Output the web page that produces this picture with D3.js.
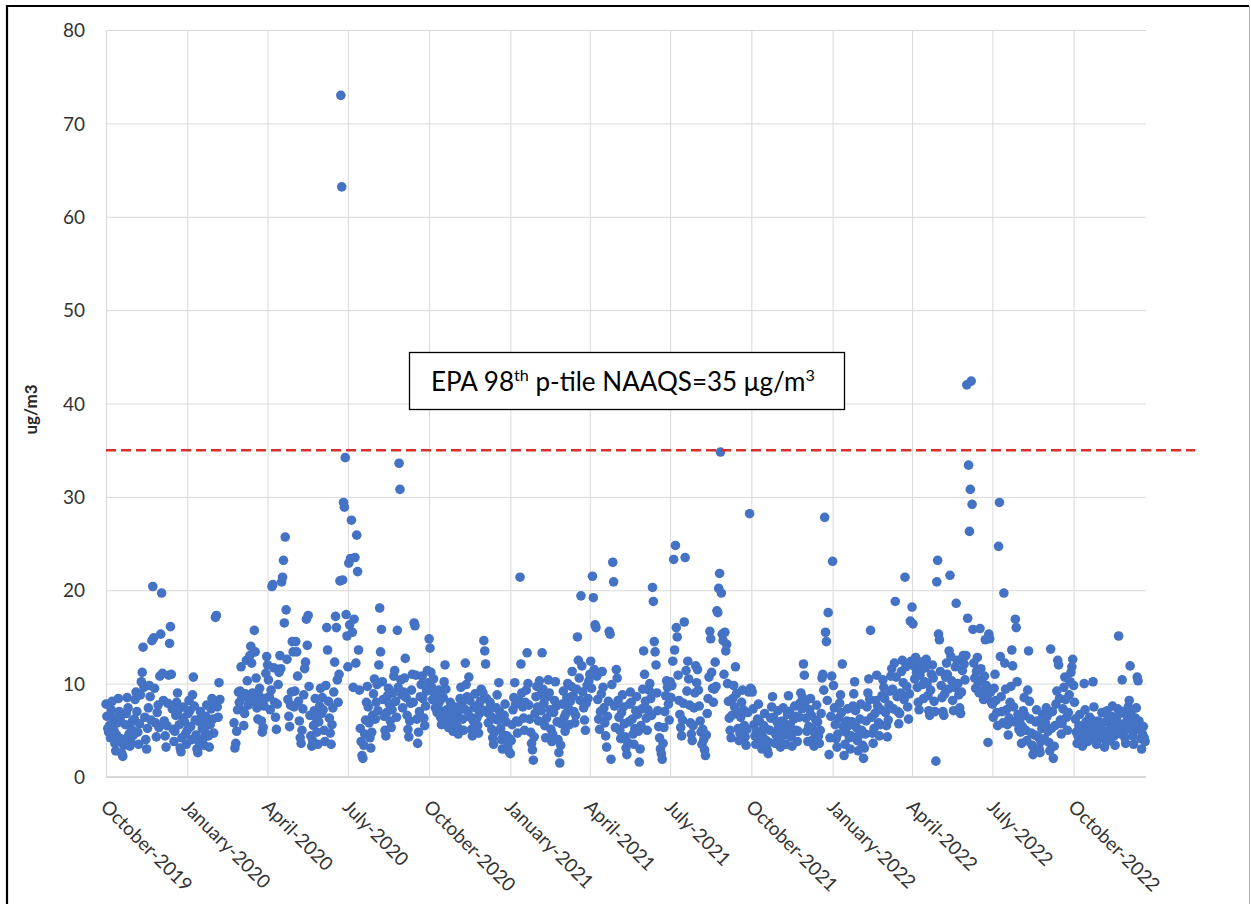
<!DOCTYPE html>
<html>
<head>
<meta charset="utf-8">
<script src="https://cdn.jsdelivr.net/npm/d3@7"></script>
<style>
  body { margin: 0; background: #fff; }
  svg { display: block; }
</style>
</head>
<body>
<svg id="chart" width="1251" height="904"></svg>
<script>
// Daily PM2.5 concentrations (ug/m3), one array per calendar month, day 1 first.
// null marks a day without a valid sample.
const oct2019 = [7.8,6.5,5.2,4.8,5.5,4.2,7.2,8.1,6.3,5.0,3.6,2.8,4.5,5.8,8.4,7.0,6.2,4.1,2.5,2.2,3.4,4.0,5.6,6.8,8.5,7.4,4.6,3.3,3.9,5.1,6.0];
const nov2019 = [4.5,6.2,8.3,9.1,7.0,4.8,3.5,5.7,8.8,10.2,11.2,13.9,9.6,6.4,4.0,3.0,5.2,7.4,9.8,8.6,6.1,14.6,20.4,14.9,9.5,5.8,4.3,6.9,7.7,5.3];
const dec2019 = [10.8,15.3,19.7,11.1,8.2,6.0,4.4,3.2,5.5,7.9,10.9,14.3,16.1,11.0,7.3,5.1,3.8,4.9,6.6,8.0,9.0,7.2,5.6,3.1,2.7,4.2,6.3,7.5,5.9,4.6,3.5];
const jan2020 = [5.0,6.8,8.2,7.1,5.4,4.0,8.8,10.7,7.6,6.1,4.5,3.0,2.6,3.8,5.9,7.0,6.4,5.2,4.1,3.4,4.9,6.5,7.7,5.8,4.4,3.2,5.6,7.3,8.4,6.2,4.7];
const feb2020 = [8.1,17.1,17.3,7.5,6.4,10.1,8.3,null,null,null,null,null,null,null,null,null,null,null,null,null,null,null,5.8,3.1,3.6,4.9,7.2,9.1,8.0];
const mar2020 = [9.2,11.8,8.5,7.1,5.5,6.8,8.9,12.5,10.3,7.7,8.3,13.0,14.0,12.2,9.0,8.1,15.7,13.4,10.6,7.4,6.2,8.7,9.5,7.9,6.0,4.8,5.3,7.6,8.4,11.1,12.9];
const apr2020 = [12.0,10.4,8.6,7.2,9.3,20.4,20.6,11.7,8.0,6.4,5.1,7.8,9.9,11.2,13.0,11.6,20.9,21.4,23.2,16.5,25.7,17.9,12.6,8.3,6.5,5.4,7.7,9.1,14.5,13.4];
const may2020 = [7.5,9.2,14.5,13.4,10.8,8.1,6.0,4.2,3.6,5.0,7.3,8.8,11.6,12.3,16.9,14.1,17.3,9.7,6.6,4.4,3.3,3.9,5.5,7.1,8.4,6.3,4.8,3.5,5.9,7.6,9.5];
const jun2020 = [6.8,8.5,7.2,5.0,3.8,9.8,16.0,13.6,8.1,6.3,4.7,3.5,5.6,7.4,9.1,12.3,17.2,16.0,10.4,8.0,11.0,21.0,73.0,63.2,21.1,29.4,28.9,34.2,17.4,15.1];
const jul2020 = [11.8,22.9,16.3,23.4,27.5,15.5,9.6,16.9,23.5,12.2,25.9,22.0,13.6,9.3,5.2,3.8,2.3,2.0,3.4,4.6,6.1,8.0,9.7,7.5,5.8,4.2,3.1,4.8,6.6,8.9,10.5];
const aug2020 = [6.2,8.0,9.9,7.1,12.0,18.1,13.4,15.8,10.2,8.3,6.5,5.0,4.4,6.9,8.7,9.5,7.8,6.0,5.3,7.2,9.0,10.8,11.4,8.1,6.4,15.7,9.6,33.6,30.8,10.4,8.8];
const sep2020 = [7.4,9.1,10.6,12.7,8.5,6.6,5.1,4.3,6.0,7.9,9.3,11.0,8.0,16.5,16.2,10.9,6.2,3.6,4.8,7.0,8.6,9.9,10.8,8.4,6.3,5.5,7.6,9.2,11.4,10.1];
const oct2020 = [14.8,13.8,11.2,9.6,8.3,10.5,9.0,7.4,8.8,6.9,7.7,9.3,8.1,6.4,5.6,7.0,8.5,10.2,12.0,9.4,7.2,6.0,5.3,6.7,8.0,7.1,5.8,4.9,6.3,7.5,6.1];
const nov2020 = [6.5,5.4,4.6,7.1,8.4,9.6,8.0,6.2,5.0,7.3,12.2,9.9,8.6,7.0,10.7,8.2,6.4,5.1,4.4,6.0,7.6,8.9,7.4,6.3,5.5,4.7,6.8,8.1,9.4,7.2];
const dec2020 = [9.0,14.6,13.5,12.1,8.4,6.9,5.8,7.3,8.0,6.5,5.1,4.2,3.5,4.8,6.2,7.4,8.8,6.1,10.1,7.0,5.2,4.0,3.0,4.5,6.6,7.8,5.9,4.4,3.3,2.8,4.1];
const jan2021 = [2.5,3.9,5.6,7.2,8.5,10.1,7.8,6.0,4.7,5.9,8.2,21.4,12.1,9.0,7.5,6.3,5.0,8.0,9.3,13.3,10.0,7.7,6.2,4.8,3.6,2.9,1.8,4.3,6.8,8.6,9.7];
const feb2021 = [7.5,6.0,10.3,8.8,7.1,13.3,9.4,7.9,5.5,4.2,6.3,8.6,10.4,9.0,7.2,5.1,3.8,4.6,6.9,8.2,10.2,7.6,5.9,4.0,2.6,1.5,3.4,5.7];
const mar2021 = [7.8,9.2,6.4,4.9,6.8,8.5,10.0,7.3,5.6,8.1,9.7,11.3,8.7,7.0,5.8,6.6,9.4,15.0,12.5,10.6,8.2,19.4,11.9,9.1,7.4,6.1,5.0,7.9,9.8,8.4,10.3];
const apr2021 = [11.0,12.4,9.5,21.5,19.2,11.5,16.3,16.0,10.8,8.3,6.2,5.1,7.0,8.9,11.3,9.6,7.4,5.8,4.4,3.2,6.5,8.1,15.6,15.3,1.9,9.9,23.0,20.9,7.6,5.3];
const may2021 = [11.5,10.6,8.2,6.4,5.0,4.1,6.9,8.8,7.5,5.7,4.3,3.1,2.4,3.7,5.9,7.8,9.1,8.0,6.2,4.6,3.5,5.2,7.1,8.6,6.7,4.9,1.6,3.0,5.5,7.3,9.4];
const jun2021 = [13.5,11.0,8.1,6.3,5.0,7.2,9.3,10.0,8.4,6.6,20.3,18.8,14.5,13.4,12.0,9.0,7.1,5.4,4.2,3.0,2.5,1.9,3.6,5.3,7.0,8.7,10.3,9.6,7.8,6.1];
const jul2021 = [10.2,8.5,9.8,12.4,23.3,13.6,24.8,16.0,15.0,10.9,8.2,6.7,5.3,4.4,6.1,7.9,16.6,23.5,11.4,9.2,12.4,10.5,7.7,5.8,4.6,3.9,5.5,7.4,9.0,11.9,10.1];
const aug2021 = [11.5,9.3,7.6,6.0,4.8,3.5,5.1,4.0,2.9,2.3,4.5,6.8,8.4,10.7,15.6,14.8,11.2,9.5,8.0,9.4,12.3,9.7,17.8,17.6,20.2,21.8,34.8,19.7,15.3,14.6,11.0];
const sep2021 = [15.5,13.5,14.2,10.0,8.1,6.3,5.0,4.2,6.6,8.4,9.8,7.5,11.8,8.9,6.8,5.2,3.9,4.7,6.4,8.0,9.3,7.2,5.5,4.3,3.4,5.1,6.9,9.1,28.2,9.5];
const oct2021 = [9.4,9.1,7.3,5.6,4.4,3.5,4.9,6.2,7.8,6.0,4.7,3.8,3.0,4.3,5.5,6.8,5.2,3.9,2.9,2.5,3.7,5.0,6.3,7.5,8.6,6.4,4.8,3.6,4.5,5.9,7.1];
const nov2021 = [5.4,4.1,3.2,4.6,6.0,7.4,5.8,4.5,3.5,5.1,6.7,8.7,7.0,5.6,4.3,3.3,4.8,6.2,7.6,6.5,5.0,3.8,4.9,6.4,7.9,9.0,7.3,8.5,12.1,10.9];
const dec2021 = [8.0,6.3,4.9,3.8,5.4,7.2,8.4,6.6,5.2,4.0,3.3,4.7,6.1,7.7,5.9,4.4,3.6,5.0,6.8,10.6,11.0,9.3,27.8,15.5,14.5,8.2,17.6,2.4,4.2,6.5,10.8];
const jan2022 = [23.1,9.8,7.4,5.6,4.1,3.2,4.6,6.3,7.9,8.8,6.9,12.1,5.4,2.3,3.5,4.8,6.0,7.3,5.5,4.2,3.0,4.4,5.9,7.6,8.9,10.2,7.1,5.3,3.9,2.8,4.5];
const feb2022 = [6.2,7.8,5.0,3.4,2.0,3.1,4.6,6.0,7.5,9.0,10.5,8.3,15.7,6.4,4.7,3.6,5.2,6.8,8.2,10.9,7.6,5.8,4.4,5.6,7.2,8.7,10.4,9.6];
const mar2022 = [8.4,6.9,5.5,4.3,6.1,7.7,9.2,10.8,11.6,9.4,7.3,12.2,18.8,10.7,8.6,7.0,5.7,6.8,9.0,11.3,12.5,10.1,8.3,21.4,11.8,9.7,7.5,6.2,8.9,16.7,12.4];
const apr2022 = [18.2,16.4,11.9,10.5,12.8,11.2,9.6,8.0,7.2,10.9,12.3,11.5,9.9,8.4,10.2,11.7,12.6,10.0,8.7,7.1,6.6,9.3,11.0,12.0,10.6,8.1,7.0,1.7,20.9,23.2];
const may2022 = [15.3,14.7,11.3,9.8,8.5,7.0,6.6,8.9,10.7,12.2,11.0,9.4,13.5,21.6,12.9,10.3,8.2,7.1,9.6,11.8,18.6,12.5,10.0,8.8,7.4,6.8,9.1,11.4,13.0,12.1,10.4];
const jun2022 = [13.0,42.0,17.0,33.4,26.3,30.8,42.4,29.2,15.8,12.2,10.6,9.5,11.3,12.8,10.1,9.0,15.9,11.6,10.4,9.2,8.3,10.8,14.7,9.8,8.6,3.7,15.3,14.8,9.1,8.0];
const jul2022 = [7.8,6.4,9.5,11.0,8.2,6.9,5.5,24.7,29.4,12.9,8.6,7.0,5.8,19.7,12.2,9.4,7.2,5.6,4.5,6.3,8.0,9.7,13.6,11.9,7.5,5.9,16.9,16.0,10.2,6.7,5.1];
const aug2022 = [6.0,4.8,3.6,5.4,7.1,8.5,6.6,5.0,3.9,9.3,13.5,8.1,6.2,4.7,3.4,2.4,3.1,4.5,5.9,7.2,6.0,4.3,3.0,2.6,3.8,5.2,6.7,5.5,4.1,5.8,7.4];
const sep2022 = [6.5,4.9,3.7,2.8,13.7,5.2,7.0,2.0,3.3,5.5,7.8,9.2,12.5,12.0,8.4,6.1,4.6,5.7,7.3,9.6,10.7,8.3,6.4,5.0,6.9,8.8,10.2,11.2,11.8,12.6];
const oct2022 = [9.8,8.0,6.2,4.8,3.6,4.4,5.5,6.7,5.1,4.0,3.3,4.6,10.0,7.2,5.9,4.7,3.8,5.3,6.4,5.0,4.2,6.1,10.2,7.5,5.6,4.5,3.5,4.9,6.0,5.2,4.3];
const nov2022 = [5.8,6.9,5.0,4.1,3.2,4.7,5.9,7.1,6.3,4.8,3.9,5.2,6.5,7.6,5.5,4.4,3.4,4.9,6.0,7.3,15.1,6.8,5.4,4.6,10.4,7.0,5.7,4.2,3.6,5.1];
const dec2022 = [6.4,7.5,8.2,11.9,7.0,5.6,4.4,3.5,5.0,6.3,7.4,10.7,10.3,6.0,5.3,4.1,3.0,4.6,5.4,4.2,3.8];

// Month arrays in order: [year, month index (0 = January), values]
const monthSeries = [
  [2019, 9, oct2019], [2019, 10, nov2019], [2019, 11, dec2019],
  [2020, 0, jan2020], [2020, 1, feb2020], [2020, 2, mar2020],
  [2020, 3, apr2020], [2020, 4, may2020], [2020, 5, jun2020],
  [2020, 6, jul2020], [2020, 7, aug2020], [2020, 8, sep2020],
  [2020, 9, oct2020], [2020, 10, nov2020], [2020, 11, dec2020],
  [2021, 0, jan2021], [2021, 1, feb2021], [2021, 2, mar2021],
  [2021, 3, apr2021], [2021, 4, may2021], [2021, 5, jun2021],
  [2021, 6, jul2021], [2021, 7, aug2021], [2021, 8, sep2021],
  [2021, 9, oct2021], [2021, 10, nov2021], [2021, 11, dec2021],
  [2022, 0, jan2022], [2022, 1, feb2022], [2022, 2, mar2022],
  [2022, 3, apr2022], [2022, 4, may2022], [2022, 5, jun2022],
  [2022, 6, jul2022], [2022, 7, aug2022], [2022, 8, sep2022],
  [2022, 9, oct2022], [2022, 10, nov2022], [2022, 11, dec2022]
];

const yTickValues = [0, 10, 20, 30, 40, 50, 60, 70, 80];
const dateStart = Date.UTC(2019, 9, 1);
const dateEnd = Date.UTC(2022, 11, 22);
const naaqsLimit = 35;
const yAxisTitle = "ug/m3";

// Flatten the monthly arrays into dated points
const points = [];
monthSeries.forEach(([yr, mo, vals]) => {
  vals.forEach((v, i) => {
    if (v !== null) points.push({ date: new Date(Date.UTC(yr, mo, i + 1)), value: v });
  });
});

const svg = d3.select("#chart");
const W = 1251, H = 904;
const plot = { left: 106, right: 1146, top: 30, bottom: 777 };
const FONT = "Lato, 'Open Sans', sans-serif";

svg.append("rect").attr("width", W).attr("height", H).attr("fill", "#fff");

const x = d3.scaleUtc().domain([dateStart, dateEnd]).range([plot.left, plot.right]);
const y = d3.scaleLinear().domain([0, 80]).range([plot.bottom, plot.top]);

// Y axis with horizontal gridlines
const yAxis = svg.append("g")
  .attr("transform", `translate(${plot.left},0)`)
  .call(d3.axisLeft(y).tickValues(yTickValues).tickSize(-(plot.right - plot.left)).tickPadding(21));
yAxis.select(".domain").remove();
yAxis.selectAll(".tick line").attr("stroke", "#d9d9d9").attr("stroke-width", 1);
yAxis.selectAll(".tick text")
  .attr("fill", "#333").attr("font-family", FONT).attr("font-size", 19).attr("dy", "0.35em");

// X axis: quarterly month ticks with vertical gridlines, rotated labels
const xAxis = svg.append("g")
  .attr("transform", `translate(0,${plot.bottom})`)
  .call(d3.axisBottom(x).ticks(d3.utcMonth.every(3)).tickSize(-(plot.bottom - plot.top))
    .tickFormat(d3.utcFormat("%B-%Y")));
xAxis.select(".domain").remove();
xAxis.selectAll(".tick line").attr("stroke", "#d9d9d9").attr("stroke-width", 1);
xAxis.selectAll(".tick text")
  .attr("fill", "#333").attr("font-family", FONT).attr("font-size", 19)
  .attr("x", 0).attr("y", 0).attr("dy", 0)
  .attr("text-anchor", "start")
  .attr("transform", "translate(-7,31) rotate(45)");

// Axis base line at zero
svg.append("line")
  .attr("x1", plot.left).attr("x2", plot.right)
  .attr("y1", y(0)).attr("y2", y(0))
  .attr("stroke", "#d0d0d0").attr("stroke-width", 1.5);

// Y axis title
svg.append("text")
  .attr("transform", `translate(37,${(plot.top + plot.bottom) / 2 + 6}) rotate(-90)`)
  .attr("text-anchor", "middle")
  .style("font-family", FONT).style("font-weight", "700").style("font-size", "17px")
  .attr("fill", "#262626")
  .text(yAxisTitle);

// Daily concentration markers
svg.append("g").selectAll("circle")
  .data(points)
  .join("circle")
  .attr("cx", d => x(d.date))
  .attr("cy", d => y(d.value))
  .attr("r", 4.8)
  .attr("fill", "#4472c4");

// 24-hour NAAQS threshold line
svg.append("line")
  .attr("x1", plot.left).attr("x2", plot.right + 49)
  .attr("y1", y(naaqsLimit)).attr("y2", y(naaqsLimit))
  .attr("stroke", "#dc2f2f").attr("stroke-width", 2.4)
  .attr("stroke-dasharray", "10,5");

// Annotation box for the threshold
const box = { x: 409.5, y: 352.5, w: 435, h: 57 };
svg.append("rect")
  .attr("x", box.x).attr("y", box.y).attr("width", box.w).attr("height", box.h)
  .attr("fill", "#fff").attr("stroke", "#000").attr("stroke-width", 1.3);

const label = svg.append("text")
  .attr("x", box.x + 21.5).attr("y", box.y + 38.5)
  .attr("font-family", FONT).attr("font-size", 25).attr("fill", "#000");
label.append("tspan").text("EPA 98");
label.append("tspan").attr("font-size", "0.62em").attr("dy", -10).text("th");
label.append("tspan").attr("dy", 10).text(" p-tile NAAQS=" + naaqsLimit + " \u03BCg/m");
label.append("tspan").attr("font-size", "0.62em").attr("dy", -10).text("3");

// fit label to the box interior width
const targetW = 384;
const measured = label.node().getComputedTextLength();
if (measured > 0) label.attr("font-size", 25 * targetW / measured);

// Outer frame
svg.append("path")
  .attr("d", `M7,${H} L7,6 L1249,6`)
  .attr("fill", "none").attr("stroke", "#000").attr("stroke-width", 2.2);
svg.append("line")
  .attr("x1", 1249.5).attr("x2", 1249.5).attr("y1", 6).attr("y2", H)
  .attr("stroke", "#b0b0b0").attr("stroke-width", 1);
</script>
</body>
</html>
